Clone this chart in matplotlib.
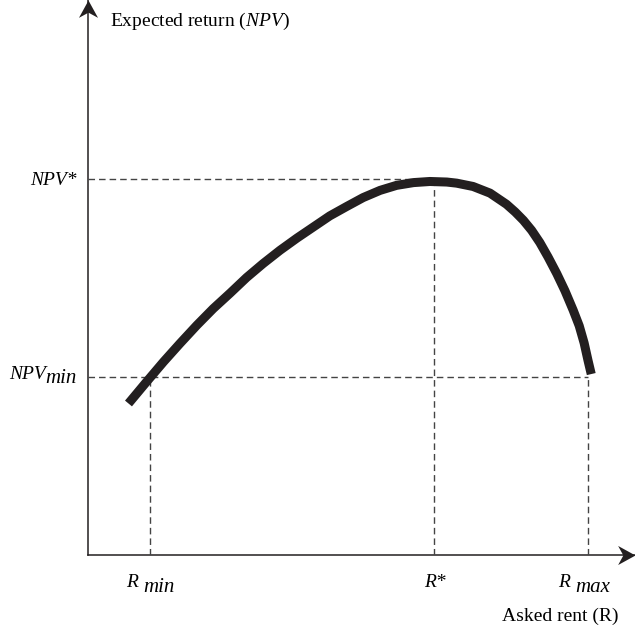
import numpy as np
import matplotlib
matplotlib.use("Agg")
import matplotlib.pyplot as plt

plt.rcParams['font.family'] = 'Liberation Serif'
plt.rcParams['mathtext.fontset'] = 'custom'
plt.rcParams['mathtext.rm'] = 'Liberation Serif'
plt.rcParams['mathtext.it'] = 'Liberation Serif:italic'

# asked rent (x) and expected NPV (y), arbitrary units
rent = [0.74, 1.07, 1.38, 1.68, 1.99, 2.29, 2.60, 2.90, 3.20, 3.51,
        3.82, 4.12, 4.42, 4.73, 5.03, 5.34, 5.64, 5.95, 6.25, 6.56,
        6.74, 7.04, 7.35, 7.65, 7.81, 7.96, 8.11, 8.26, 8.41, 8.57,
        8.72, 8.87, 8.98, 9.07, 9.14, 9.20]
npv = [2.73, 3.12, 3.48, 3.81, 4.14, 4.44, 4.72, 5.00, 5.25, 5.49,
       5.71, 5.91, 6.11, 6.28, 6.44, 6.57, 6.66, 6.71, 6.73, 6.72,
       6.70, 6.64, 6.52, 6.32, 6.18, 6.03, 5.85, 5.63, 5.37, 5.07,
       4.76, 4.41, 4.13, 3.82, 3.51, 3.26]

r_min, r_star, r_max = 1.13, 6.33, 9.14
npv_star, npv_min = 6.77, 3.21
x_end, y_end = 10.0, 10.0

ink = '#231f20'
dash = '#444444'

fig = plt.figure(figsize=(6.35, 6.30), dpi=100)
ax = fig.add_axes([88 / 635, 75 / 630, 547 / 635, 555 / 630])
ax.set_xlim(0, x_end)
ax.set_ylim(0, y_end)
ax.axis('off')

# axes with arrow heads
ax.plot([0, 0], [0, y_end], color=ink, lw=1.1, clip_on=False)
ax.plot([0, x_end], [0, 0], color=ink, lw=1.1, clip_on=False)
up = [(0, 0), (-0.55, -1), (0, -0.7), (0.55, -1), (0, 0)]
right = [(0, 0), (-1, 0.55), (-0.7, 0), (-1, -0.55), (0, 0)]
ax.plot([0], [y_end], marker=up, ms=25, color=ink, mew=0, clip_on=False)
ax.plot([x_end], [0], marker=right, ms=25, color=ink, mew=0, clip_on=False)

# guide lines
kw = dict(color=dash, lw=1.0, linestyle=(0, (4.7, 2.9)))
ax.plot([0, r_star], [npv_star, npv_star], **kw)
ax.plot([0, r_max], [npv_min, npv_min], **kw)
ax.plot([r_min, r_min], [0, npv_min], **kw)
ax.plot([r_star, r_star], [0, npv_star], **kw)
ax.plot([r_max, r_max], [0, npv_min], **kw)

# NPV curve
ax.plot(rent, npv, color=ink, lw=6.5, solid_capstyle='butt',
        solid_joinstyle='round', zorder=3)

fs = 14
ax.text(0.40, 9.54, r'Expected return ($NPV$)', fontsize=fs,
        ha='left', va='baseline')
ax.text(-0.2, npv_star - 0.11, 'NPV*', fontsize=fs, style='italic',
        ha='right', va='baseline')

# NPV_min: subscript nearly full size, set as a second text
sub = ax.annotate('min', xy=(-0.2, npv_min), xytext=(0, -4.3),
                  textcoords='offset points', fontsize=fs + 1, style='italic',
                  ha='right', va='baseline', annotation_clip=False)
ax.annotate('NPV', xy=(0, 0), xycoords=sub, xytext=(0, 3.6),
            textcoords='offset points', fontsize=fs, style='italic',
            ha='right', va='bottom', annotation_clip=False)


def rent_label(x, main, low, dx):
    t = ax.annotate(main, xy=(x, 0), xytext=(dx, -23),
                    textcoords='offset points', fontsize=fs, style='italic',
                    ha='left', va='baseline', annotation_clip=False)
    if low:
        ax.annotate(low, xy=(1, 0), xycoords=t, xytext=(3.5, -4.5),
                    textcoords='offset points', fontsize=fs + 1,
                    style='italic', ha='left', va='bottom',
                    annotation_clip=False)


rent_label(r_min, 'R', 'min', -17)
rent_label(r_star, 'R*', None, -7)
rent_label(r_max, 'R', 'max', -21.5)

ax.text(9.69, -1.19, 'Asked rent (R)', fontsize=fs, ha='right', va='baseline')

fig.savefig('out.png', dpi=100)
